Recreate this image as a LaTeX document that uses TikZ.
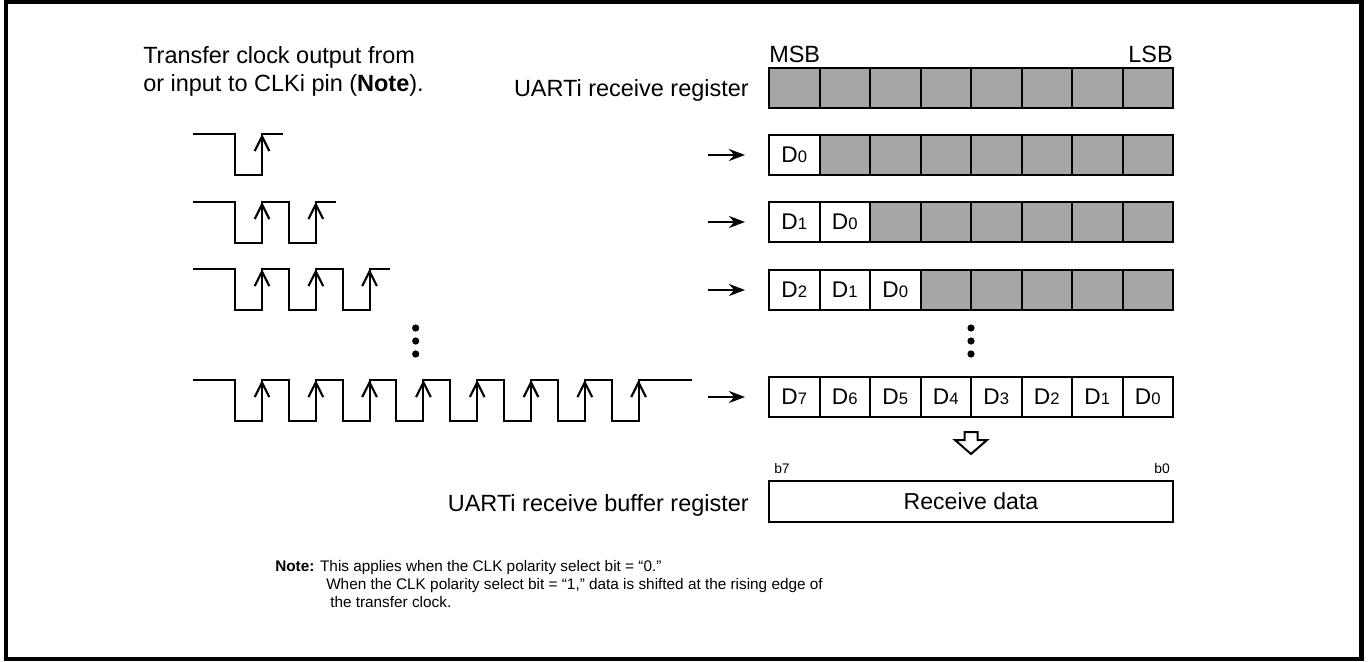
\documentclass[tikz,border=0pt]{standalone}
\usepackage{fontspec}
\setmainfont{Liberation Sans}
\usetikzlibrary{arrows.meta,calc}
\definecolor{regfill}{RGB}{166,166,166}
\newcommand{\Dn}[1]{D{\fontsize{12.5}{12.5}\selectfont #1}}
\tikzset{
  cell/.style={draw, line width=1.5pt, minimum width=37.875pt, minimum height=30pt,
    inner sep=0pt, outer sep=0pt, font=\fontsize{17}{18}\selectfont},
  graycell/.style={cell, fill=regfill},
  wave/.style={line width=1.6pt, line join=miter},
  risearrow/.style={line width=1.6pt, -{Straight Barb[length=11pt,width=11pt]}},
  shiftarrow/.style={line width=1.6pt, -{Stealth[length=12pt,width=9pt]}},
  lbl/.style={font=\fontsize{17.6}{21}\selectfont, inner sep=0pt},
  small/.style={font=\fontsize{10.4}{12}\selectfont, inner sep=0pt},
  notetext/.style={font=\fontsize{11.5}{13.5}\selectfont, inner sep=0pt},
  vdot/.style={fill=black},
  hollow/.style={line width=1.5pt, line join=miter, fill=white}
}
\begin{document}
\begin{tikzpicture}[x=0.75pt, y=-0.75pt]
\useasboundingbox (0,0) rectangle (1368,661);
\draw[line width=3.5pt] (6,2) rectangle (1361.5,659);

% title text
\node[lbl, anchor=base west] (t1) at (143,63) {Transfer clock output from};
\node[lbl, anchor=base west] (t2) at (143,91) {or input to CLKi pin (\textbf{Note}).};

% register labels
\node[lbl, anchor=base west] (msb) at (769,62) {MSB};
\node[lbl, anchor=base east] (lsb) at (1173,62) {LSB};
\node[lbl, anchor=base east] (rr) at (749,96) {UARTi receive register};

% registers
\foreach \r/\y/\k in {0/88/0, 1/155/1, 2/222/2, 3/290/3} {
  \foreach \i in {0,...,7} {
    \pgfmathtruncatemacro{\d}{\k-1-\i}
    \ifnum\i<\k
      \node[cell] (r\r c\i) at ({794.25+50.5*\i},\y) {\Dn{\d}};
    \else
      \node[graycell] (r\r c\i) at ({794.25+50.5*\i},\y) {};
    \fi
  }
}
\foreach \i in {0,...,7} {
  \pgfmathtruncatemacro{\d}{7-\i}
  \node[cell] (r4c\i) at ({794.25+50.5*\i},397) {\Dn{\d}};
}

% shift arrows
\foreach \r in {1,2,3,4} {
  \coordinate (as\r) at ($(r\r c0.west)+(-61,0)$);
  \coordinate (ae\r) at ($(r\r c0.west)+(-24,0)$);
  \draw[shiftarrow] (as\r) -- (ae\r);
}

% waveforms
\foreach \yh/\n/\xe in {134/1/283, 202/2/336, 269/3/390, 380/8/692} {
  \draw[wave] (193,\yh)
    \foreach \j in {1,...,\n} { -- ({235+53.8*(\j-1)},\yh) -- ++(0,41) -- ++(27,0) -- ++(0,-41) }
    -- (\xe,\yh);
  \foreach \j in {1,...,\n} {
    \draw[risearrow] ({262+53.8*(\j-1)},{\yh+41}) -- ++(0,-41);
  }
}

% vertical dots
\foreach \x in {415.7, 971} {
  \foreach \yy in {328, 341, 354} {
    \fill[vdot] (\x,\yy) circle[radius=2.7pt];
  }
}

% hollow transfer arrow
\draw[hollow] (964.5,432) -- (977.5,432) -- (977.5,440) -- (987,440) -- (971,454)
  -- (955,440) -- (964.5,440) -- cycle;

% buffer register
\node[small, anchor=base west] (b7) at (774,473) {b7};
\node[small, anchor=base east] (b0) at (1170,473) {b0};
\node[cell, minimum width=303pt, minimum height=30.75pt, font=\fontsize{17.3}{20}\selectfont] (buf) at (971,501.5) {Receive data};
\node[lbl, anchor=base east] (br) at (749,511) {UARTi receive buffer register};

% note
\node[notetext, anchor=base west] (n1) at (275,571) {\textbf{Note:} This applies when the CLK polarity select bit = “0.”};
\node[notetext, anchor=base west] (n2) at (326,589) {When the CLK polarity select bit = “1,” data is shifted at the rising edge of};
\node[notetext, anchor=base west] (n3) at (330,607) {the transfer clock.};
\end{tikzpicture}
\end{document}
